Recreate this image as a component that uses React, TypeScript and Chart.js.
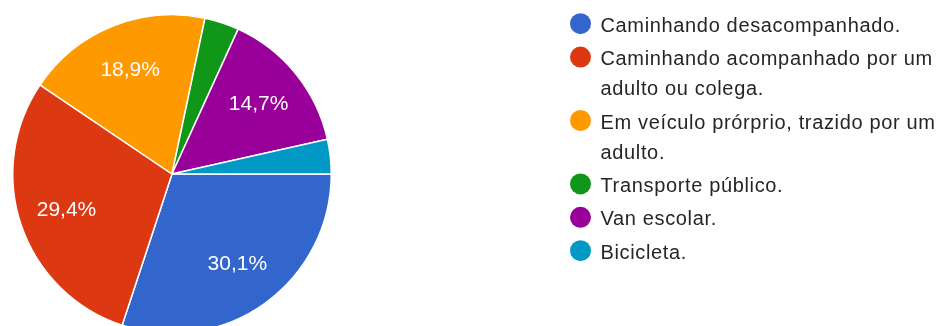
import React, { useEffect, useRef } from "react";
import { Chart, registerables } from "chart.js";

Chart.register(...registerables);

const categories: string[][] = [
  ["Caminhando desacompanhado."],
  ["Caminhando acompanhado por um", "adulto ou colega."],
  ["Em veículo prórprio, trazido por um", "adulto."],
  ["Transporte público."],
  ["Van escolar."],
  ["Bicicleta."],
];
const counts: number[] = [43, 42, 27, 5, 21, 5];
const colors: string[] = ["#3366cc", "#dc3912", "#ff9900", "#109618", "#990099", "#0099c6"];

const FONT = "'Liberation Sans', Arial, sans-serif";

const sliceLabels = {
  id: "sliceLabels",
  afterDatasetsDraw(chart: any) {
    const ctx = chart.ctx;
    const meta = chart.getDatasetMeta(0);
    const data = chart.data.datasets[0].data as number[];
    const total = data.reduce((a, b) => a + b, 0);
    ctx.save();
    ctx.fillStyle = "#ffffff";
    ctx.font = `21px ${FONT}`;
    ctx.textAlign = "center";
    ctx.textBaseline = "middle";
    meta.data.forEach((arc: any, i: number) => {
      const pct = (data[i] / total) * 100;
      if (pct < 5) return;
      const { x, y, startAngle, endAngle, outerRadius } = arc.getProps(
        ["x", "y", "startAngle", "endAngle", "outerRadius"],
        true
      );
      const mid = (startAngle + endAngle) / 2;
      const r = outerRadius * 0.7;
      ctx.fillText(pct.toFixed(1).replace(".", ",") + "%", x + Math.cos(mid) * r, y + Math.sin(mid) * r);
    });
    ctx.restore();
  },
};

const sideLegend = {
  id: "sideLegend",
  afterDraw(chart: any) {
    const ctx = chart.ctx;
    const labels = chart.data.labels as string[][];
    const bg = chart.data.datasets[0].backgroundColor as string[];
    ctx.save();
    ctx.font = `20px ${FONT}`;
    try {
      (ctx as any).letterSpacing = "0.65px";
    } catch (e) {}
    ctx.textAlign = "left";
    ctx.textBaseline = "alphabetic";
    let baseline = 31.7;
    labels.forEach((lines, i) => {
      ctx.fillStyle = bg[i];
      ctx.beginPath();
      ctx.arc(580.5, baseline - 8, 10.5, 0, Math.PI * 2);
      ctx.fill();
      ctx.fillStyle = "#262626";
      lines.forEach((ln, j) => {
        ctx.fillText(ln, 600.5, baseline + j * 30);
      });
      baseline += (lines.length - 1) * 30 + 33.4;
    });
    ctx.restore();
  },
};

export default function App() {
  const ref = useRef<HTMLCanvasElement>(null);
  useEffect(() => {
    document.body.style.margin = "0";
    const chart = new Chart(ref.current!, {
      type: "pie",
      data: {
        labels: categories,
        datasets: [
          {
            data: counts,
            backgroundColor: colors,
            borderColor: "#ffffff",
            borderWidth: 1.5,
          },
        ],
      },
      options: {
        responsive: false,
        animation: false,
        rotation: 90,
        layout: { padding: { left: 11, top: 14, right: 607, bottom: 6 } },
        plugins: {
          legend: { display: false },
          tooltip: { enabled: false },
        },
      },
      plugins: [sliceLabels, sideLegend],
    });
    return () => chart.destroy();
  }, []);
  return (
    <div style={{ position: "absolute", left: 0, top: 0, width: 940, height: 326, overflow: "hidden", background: "#fff" }}>
      <canvas ref={ref} width={940} height={340} style={{ display: "block", width: 940, height: 340 }} />
    </div>
  );
}
